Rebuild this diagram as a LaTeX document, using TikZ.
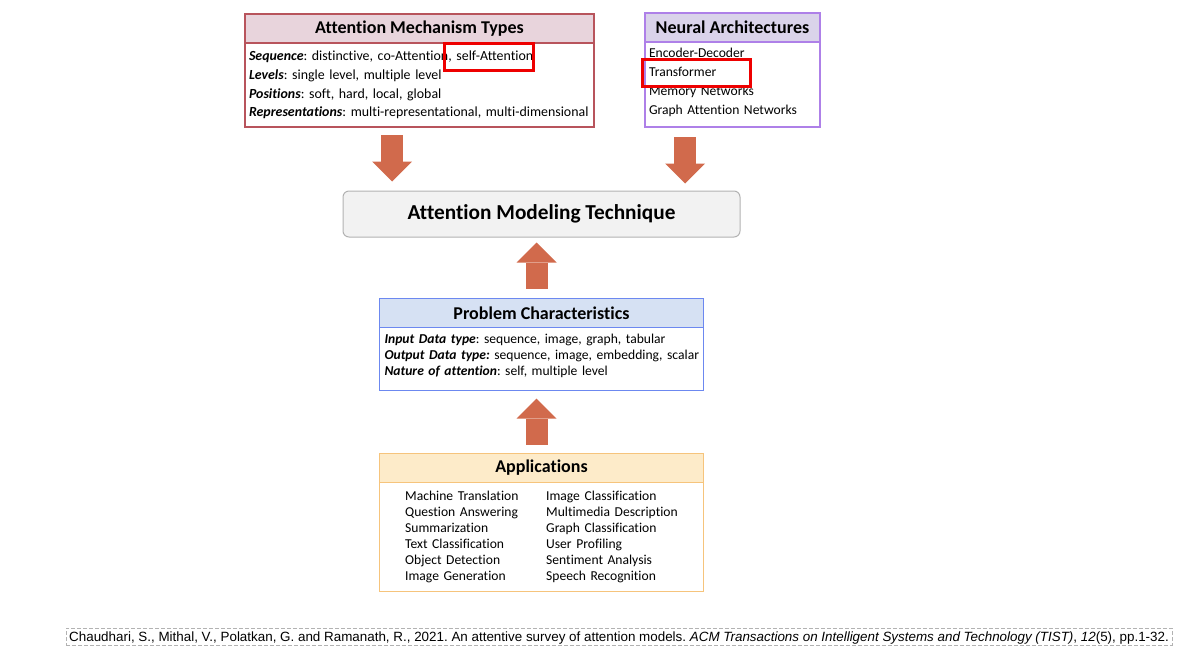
\documentclass[tikz,border=0pt]{standalone}
\usepackage{fontspec}
\setmainfont{Carlito}[Ligatures=CommonOff]
\newfontfamily\citefont{Liberation Sans}
\usepackage{xcolor}
\usepackage{tikz}
\usetikzlibrary{arrows.meta, positioning}
\frenchspacing
\definecolor{mechred}{RGB}{184,84,92}
\definecolor{mechfill}{RGB}{232,212,220}
\definecolor{archpurple}{RGB}{174,128,232}
\definecolor{archfill}{RGB}{218,211,234}
\definecolor{probblue}{RGB}{108,136,240}
\definecolor{probfill}{RGB}{214,225,243}
\definecolor{apporange}{RGB}{246,196,124}
\definecolor{appfill}{RGB}{253,235,201}
\definecolor{flowarrow}{RGB}{209,106,76}
\definecolor{markred}{RGB}{238,0,0}
\tikzstyle{header} = [rectangle, minimum height=29pt, inner sep=0pt, outer sep=0pt, text centered, line width=1.3pt, font=\fontsize{18}{21}\selectfont\bfseries]
\tikzstyle{listbox} = [rectangle, outer sep=0pt, inner ysep=0pt, align=left, line width=1.3pt, fill=white, font=\fontsize{13.6}{18.7}\selectfont]
\tikzstyle{bigarrow} = [line width=22pt, draw=flowarrow, -{Triangle[length=20pt,width=40pt,line width=0pt]}]
\tikzstyle{highlight} = [draw=markred, line width=3pt]

\begin{document}
\begin{tikzpicture}[x=1pt, y=-1pt]
\useasboundingbox (0,0) rectangle (1177,646);

% Inputs
\node (mech_head) [header, fill=mechfill, draw=mechred, minimum width=349pt] at (419.5,28.5) {Attention Mechanism Types};
\node (mech_list) [listbox, draw=mechred, below=0pt of mech_head, inner xsep=4pt, text width=341pt, minimum height=84pt, font=\fontsize{13.9}{18.7}\selectfont] {\mbox{\textbf{\textit{Sequence}}: distinctive, co-Attention, self-Attention}\\\textbf{\textit{Levels}}: single level, multiple level\\\textbf{\textit{Positions}}: soft, hard, local, global\\\mbox{\textbf{\textit{Representations}}: multi-representational, multi-dimensional}};
\node (arch_head) [header, fill=archfill, draw=archpurple, minimum width=175pt] at (732.5,27.5) {Neural Architectures};
\node (arch_list) [listbox, draw=archpurple, below=0pt of arch_head, inner xsep=4pt, text width=167pt, minimum height=85pt] {Encoder-Decoder\\Transformer\\Memory Networks\\Graph Attention Networks\rule[-6.5pt]{0pt}{0pt}};

% Technique
\node (technique) [rectangle, rounded corners=6pt, draw=gray!60, fill=gray!10, line width=1pt, minimum width=397pt, minimum height=46pt, font=\fontsize{21.3}{24}\selectfont\bfseries] at (541.5,214) {Attention Modeling Technique};

% Problem and applications
\node (prob_head) [header, fill=probfill, draw=probblue, minimum width=324pt, below=61pt of technique] {Problem Characteristics};
\node (prob_list) [listbox, draw=probblue, below=0pt of prob_head, inner xsep=5pt, text width=314pt, minimum height=63pt, font=\fontsize{13.6}{16}\selectfont] {\mbox{\textbf{\textit{Input Data type}}: sequence, image, graph, tabular}\\\mbox{\textbf{\textit{Output Data type:}} sequence, image, embedding, scalar}\\\mbox{\textbf{\textit{Nature of attention}}: self, multiple level}\rule[-7.5pt]{0pt}{0pt}};
\node (app_head) [header, fill=appfill, draw=apporange, minimum width=324pt, below=63pt of prob_list] {Applications};
\node (app_list) [listbox, draw=apporange, below=0pt of app_head, inner xsep=5pt, text width=314pt, minimum height=109pt, align=center, font=\fontsize{13.6}{16}\selectfont] {\begin{tabular}{@{}p{141pt}@{}l@{}}
Machine Translation & Image Classification\\
Question Answering & Multimedia Description\\
Summarization & Graph Classification\\
Text Classification & User Profiling\\
Object Detection & Sentiment Analysis\\
Image Generation & Speech Recognition
\end{tabular}};

% Highlights
\draw [highlight] ([xshift=199pt]mech_list.north west) rectangle ([xshift=288pt, yshift=-27pt]mech_list.north west);
\draw [highlight] ([xshift=-3pt, yshift=-17pt]arch_list.north west) rectangle ([xshift=105pt, yshift=-44pt]arch_list.north west);

% Connections
\draw [bigarrow, shorten <=8pt, shorten >=9pt] ([xshift=-27.5pt]mech_list.south) -- ([xshift=-27.5pt]mech_list.south |- technique.north);
\draw [bigarrow, shorten <=10pt, shorten >=7pt] ([xshift=-47.5pt]arch_list.south) -- ([xshift=-47.5pt]arch_list.south |- technique.north);
\draw [bigarrow, shorten <=10pt, shorten >=5pt] ([xshift=-5pt]prob_head.north) -- ([xshift=-5pt]prob_head.north |- technique.south);
\draw [bigarrow, shorten <=9pt, shorten >=8pt] ([xshift=-5pt]app_head.north) -- ([xshift=-5pt]app_head.north |- prob_list.south);

% Reference
\node (citation) [rectangle, draw=gray!60, dashed, dash pattern=on 4pt off 2pt, minimum width=1106pt, minimum height=17pt, inner sep=0pt, text height=12pt, text depth=2.8pt, font=\citefont\fontsize{13.4}{16}\selectfont] at (619,636.5) {Chaudhari, S., Mithal, V., Polatkan, G. and Ramanath, R., 2021. An attentive survey of attention models. \textit{ACM Transactions on Intelligent Systems and Technology (TIST)}, \textit{12}(5), pp.1-32.};

\end{tikzpicture}
\end{document}
